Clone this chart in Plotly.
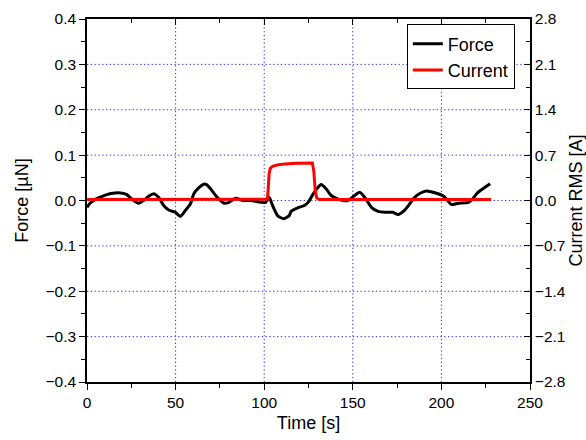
import plotly.graph_objects as go

# Force trace (time [s], force [uN])
force_t = [0, 1.7, 5.5, 8.5, 11.2, 14.5, 17.7, 20, 22.5, 24.5, 26.3, 29.1, 31.9, 35, 37.6, 40.4, 43.3, 46.1,
           49.9, 52.7, 55.5, 58.4, 60.3, 63, 65.9, 67.5, 69.7, 73.5, 77.3, 80.1, 83.9, 87.7, 92.4, 98.1, 100.9,
           102.8, 104.7, 107.5, 109.4, 111.3, 114.2, 115.1, 118.9, 122.7, 125, 127.4, 130, 132.1, 134.9, 137.8,
           142.5, 147.2, 151, 153.9, 156.7, 160.5, 164.3, 168, 172.7, 175.5, 179.3, 182, 184.9, 188, 191.6,
           196.3, 201.1, 205.8, 209.6, 215.2, 217.5, 219.9, 222, 224.6, 227.5]
force_v = [-0.015, -0.006, 0.004, 0.009, 0.013, 0.016, 0.017, 0.016, 0.013, 0.006, 0.0, -0.006, 0.0, 0.01, 0.015,
           0.007, -0.011, -0.021, -0.026, -0.035, -0.022, -0.007, 0.015, 0.028, 0.036, 0.035, 0.026, 0.007,
           -0.006, -0.004, 0.005, 0.0, 0.0, -0.004, -0.004, 0.007, -0.011, -0.033, -0.038, -0.04, -0.033,
           -0.024, -0.016, -0.011, -0.003, 0.013, 0.027, 0.035, 0.026, 0.011, 0.002, 0.0, 0.011, 0.018, 0.007,
           -0.015, -0.024, -0.026, -0.026, -0.031, -0.021, -0.008, 0.007, 0.016, 0.021, 0.017, 0.01, -0.009,
           -0.006, -0.004, 0.003, 0.015, 0.022, 0.029, 0.037]

# Current RMS trace (time [s], current [A])
current_t = [0, 100, 101.8, 102.3, 102.8, 103.5, 105, 108, 112, 118, 124, 127.2, 128, 128.8, 129.6, 131, 150, 200, 228]
current_v = [0.015, 0.015, 0.02, 0.2, 0.42, 0.5, 0.53, 0.55, 0.565, 0.575, 0.578, 0.578, 0.45, 0.15, 0.04, 0.015,
             0.015, 0.015, 0.015]

force_ticks = [-0.4, -0.3, -0.2, -0.1, 0.0, 0.1, 0.2, 0.3, 0.4]
force_grid = [-0.3, -0.2, -0.1, 0.0, 0.1, 0.2, 0.3]
current_ticks = [-2.8, -2.1, -1.4, -0.7, 0.0, 0.7, 1.4, 2.1, 2.8]
time_ticks = [0, 50, 100, 150, 200, 250]
time_grid = [50, 100, 150, 200]

FONT = "Liberation Sans, Arial, sans-serif"
GRID = "#2a2aff"
GDASH = "1.3px,2.5px"
TICKSIZE = 15.5
TITLESIZE = 18

fig = go.Figure()
fig.add_trace(go.Scatter(x=force_t, y=force_v, mode="lines", name="Force",
                         line=dict(color="black", width=3, shape="spline", smoothing=0.6)))
fig.add_trace(go.Scatter(x=current_t, y=current_v, mode="lines", name="Current", yaxis="y2",
                         line=dict(color="#ff0000", width=3)))

# grid lines drawn as dotted shapes (only interior lines, like the reference)
for gx in time_grid:
    fig.add_shape(type="line", xref="x", yref="paper", x0=gx, x1=gx, y0=0, y1=1, layer="below",
                  line=dict(color=GRID, width=1, dash=GDASH))
for gy in force_grid:
    fig.add_shape(type="line", xref="paper", yref="y", x0=0, x1=1, y0=gy, y1=gy, layer="below",
                  line=dict(color=GRID, width=1, dash=GDASH))

fig.update_layout(
    width=586, height=440,
    margin=dict(l=87, r=56, t=19, b=58),
    paper_bgcolor="white", plot_bgcolor="white",
    font=dict(family=FONT, size=TICKSIZE, color="black"),
    showlegend=True,
    legend=dict(x=0.722, y=0.985, xanchor="left", yanchor="top",
                bordercolor="black", borderwidth=1, bgcolor="white",
                font=dict(size=18, family=FONT, color="black"), tracegroupgap=0, itemwidth=30),
    xaxis=dict(range=[0, 250], tickvals=time_ticks, ticks="outside", ticklen=6, tickwidth=1,
               tickcolor="black", showline=True, linecolor="black", linewidth=1.5,
               showgrid=False, zeroline=False, automargin=False,
               tickfont=dict(color="black", size=TICKSIZE),
               minor=dict(dtick=25, ticks="outside", ticklen=4, tickcolor="black", showgrid=False),
               title=dict(text="Time [s]", font=dict(size=TITLESIZE, family=FONT, color="black"), standoff=6)),
    xaxis2=dict(range=[0, 250], overlaying="x", side="top", anchor="y", matches="x",
                tickvals=time_ticks, ticks="inside", ticklen=6, tickcolor="black",
                showticklabels=False, showline=True, linecolor="black", linewidth=1.5,
                showgrid=False, zeroline=False, automargin=False,
                minor=dict(dtick=25, ticks="inside", ticklen=4, tickcolor="black", showgrid=False)),
    yaxis=dict(range=[-0.4, 0.4], tickvals=force_ticks, tickformat=".1f", ticks="outside", ticklen=6,
               tickcolor="black", showline=True, linecolor="black", linewidth=1.5,
               showgrid=False, zeroline=False, automargin=False,
               tickfont=dict(color="black", size=TICKSIZE),
               minor=dict(dtick=0.05, ticks="outside", ticklen=4, tickcolor="black", showgrid=False),
               title=dict(text="Force [µN]", font=dict(size=TITLESIZE, family=FONT, color="black"), standoff=12)),
    yaxis2=dict(range=[-2.8, 2.8], tickvals=current_ticks, tickformat=".1f", overlaying="y", side="right",
                anchor="x", ticks="inside", ticklen=6, tickcolor="black", showline=True,
                linecolor="black", linewidth=1.5, showgrid=False, zeroline=False, automargin=False,
                tickfont=dict(color="black", size=TICKSIZE),
                minor=dict(dtick=0.35, ticks="inside", ticklen=4, tickcolor="black", showgrid=False),
                title=dict(text="Current RMS [A]", font=dict(size=TITLESIZE, family=FONT, color="black"), standoff=6)),
)

# invisible trace so the top axis is drawn
fig.add_trace(go.Scatter(x=[0], y=[0], xaxis="x2", mode="markers", marker=dict(opacity=0),
                         showlegend=False, hoverinfo="skip"))

fig.write_html("out.html")
